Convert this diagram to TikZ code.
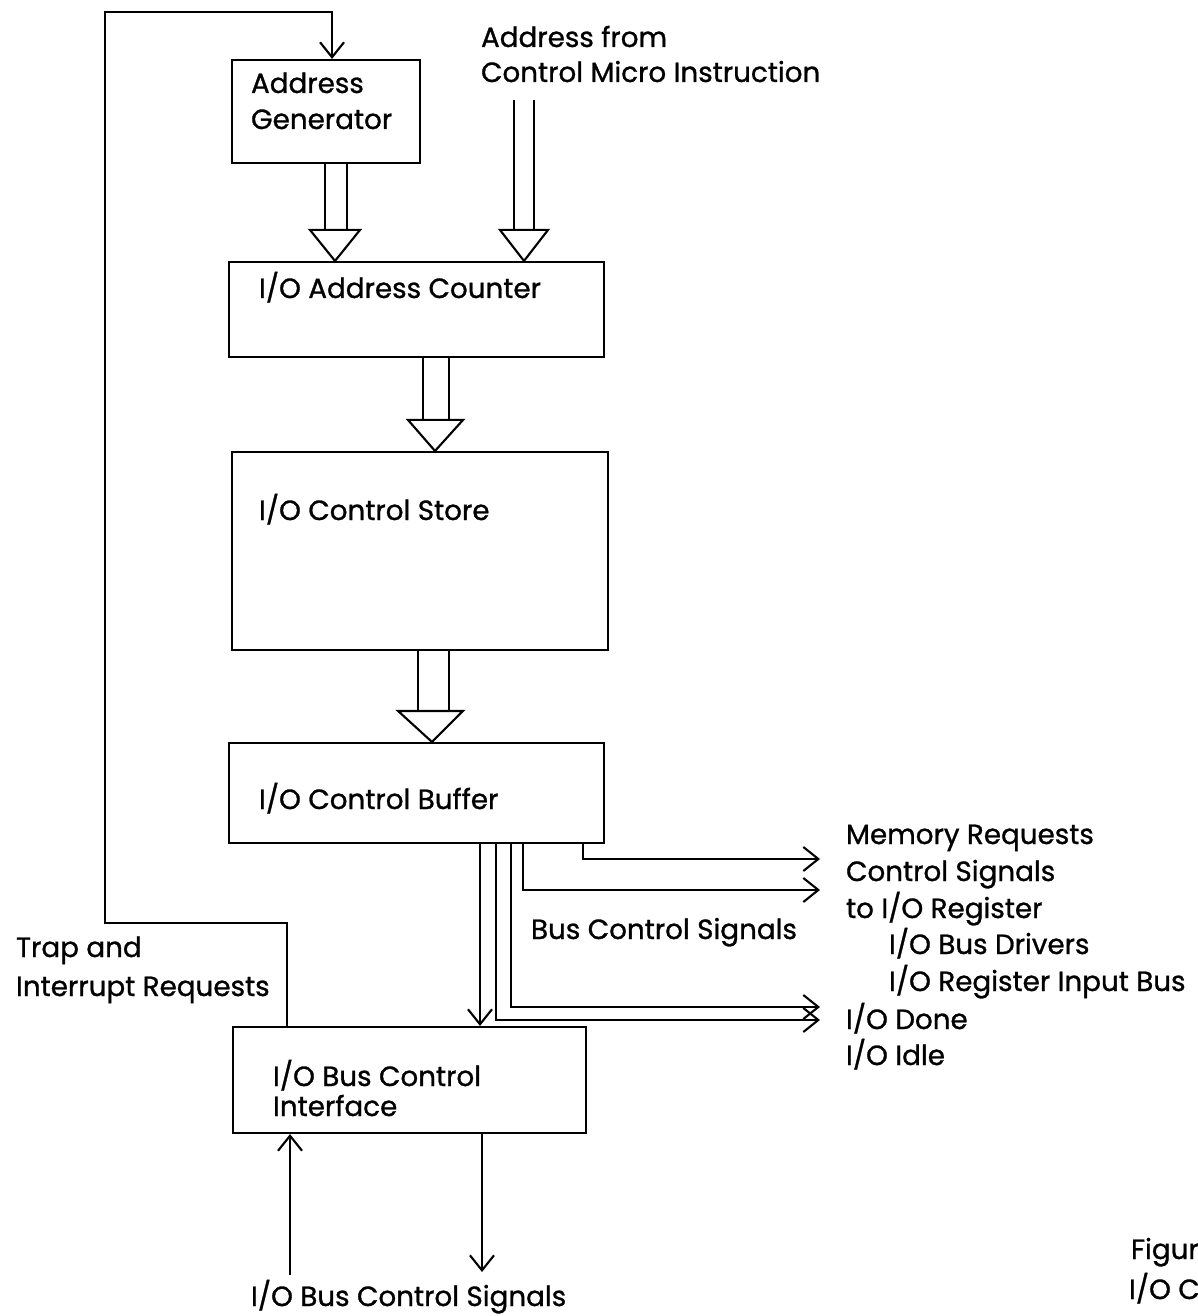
\documentclass[tikz,border=0pt]{standalone}
\usepackage{fontspec}
\setmainfont{Poppins}[FakeBold=1]
\usetikzlibrary{arrows.meta}
\begin{document}
\begin{tikzpicture}[x=0.1mm, y=-0.1mm,
   line width=0.6pt,
   >={Straight Barb[length=1.5mm,width=2.4mm]},
   block/.style={draw, rectangle, inner sep=0pt},
   txt/.style={anchor=base west, inner sep=0pt, font=\fontsize{7.9}{9}\selectfont}]

\useasboundingbox (0,0) rectangle (1198,1316);

% blocks
\node[block, minimum width=18.8mm, minimum height=10.3mm] (addrgen) at (326,111.5) {};
\node[block, minimum width=37.5mm, minimum height=9.5mm] (addrcnt) at (416.5,309.5) {};
\node[block, minimum width=37.6mm, minimum height=19.8mm] (ctlstore) at (420,551) {};
\node[block, minimum width=37.5mm, minimum height=10mm] (ctlbuf) at (416.5,793) {};
\node[block, minimum width=35.3mm, minimum height=10.6mm] (busif) at (409.5,1080) {};

% block texts
\node[txt] (agtxt1) at (250,93) {Address};
\node[txt] (agtxt2) at (250,129) {Generator};
\node[txt] (actxt) at (258,298) {I/O Address Counter};
\node[txt] (cstxt) at (258,520) {I/O Control Store};
\node[txt] (cbtxt) at (258,809) {I/O Control Buffer};
\node[txt] (bitxt1) at (272,1086) {I/O Bus Control};
\node[txt] (bitxt2) at (272,1116) {Interface};

% other texts
\node[txt] (src1) at (480,47) {Address from};
\node[txt] (src2) at (480,82) {Control Micro Instruction};
\node[txt] (trap1) at (15,957) {Trap and};
\node[txt] (trap2) at (15,996) {Interrupt Requests};
\node[txt] (bcs) at (530,939) {Bus Control Signals};
\node[txt] (iobcs) at (250,1306) {I/O Bus Control Signals};
\node[txt] (fig1) at (1130,1259) {Figur};
\node[txt] (fig2) at (1128,1299) {I/O C};
\foreach \x/\y/\t [count=\i] in {845/844/{Memory Requests}, 845/881/{Control Signals},
    845/918/{to I/O Register}, 888/954/{I/O Bus Drivers}, 888/991/{I/O Register Input Bus},
    845/1029/{I/O Done}, 845/1065/{I/O Idle}}
  \node[txt] (out\i) at (\x,\y) {\t};

% wide bus arrows
\coordinate (ctlsrc) at (514,100);
\path (addrcnt.north -| 524,0) ++(0,-31) coordinate (tc);
\draw (ctlsrc) -- (tc -| 514,0) (ctlsrc -| 534,0) -- (tc -| 534,0);
\draw (addrcnt.north -| 524,0) -- ++(-24,-31) -- ++(48,0) -- cycle;
\foreach \src/\dst/\xa/\xb/\tip/\hl/\hr in {addrgen/addrcnt/325/347/335/25/25,
    addrcnt/ctlstore/423/449/435/27/28, ctlstore/ctlbuf/418/449/432/34/31}
{
  \path (\dst.north -| \tip,0) ++(0,-31) coordinate (t);
  \draw (\src.south -| \xa,0) -- (t -| \xa,0) (\src.south -| \xb,0) -- (t -| \xb,0);
  \draw (\dst.north -| \tip,0) -- ++(-\hl,-31) -- ++(\hl+\hr,0) -- cycle;
}

% control signals out of the buffer
\coordinate (o1) at (820,859);
\coordinate (o2) at (820,890);
\coordinate (o3) at (820,1007);
\coordinate (o4) at (820,1020);
\draw[->] (ctlbuf.south -| 583,0) |- (o1);
\draw[->] (ctlbuf.south -| 523,0) |- (o2);
\draw[->] (ctlbuf.south -| 511,0) |- (o3);
\draw[->] (ctlbuf.south -| 496,0) |- (o4);
\draw[->] (ctlbuf.south -| 480,0) -- (busif.north -| 480,0);

% trap feedback
\draw[->] (busif.north -| 287,0) |- (105,923) |- (332,12) -- (addrgen.north -| 332,0);

% external bus
\coordinate (busin) at (290,1275);
\coordinate (busout) at (482,1272);
\draw[->] (busin) -- (busif.south -| busin);
\draw[->] (busif.south -| busout) -- (busout);

\end{tikzpicture}
\end{document}
